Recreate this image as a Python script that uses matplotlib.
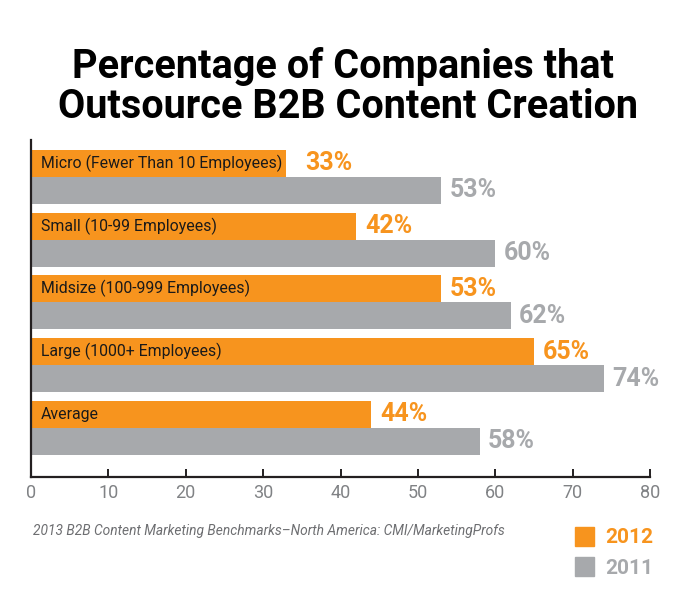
import matplotlib.pyplot as plt
import numpy as np

# data
categories = [
    "Micro (Fewer Than 10 Employees)",
    "Small (10-99 Employees)",
    "Midsize (100-999 Employees)",
    "Large (1000+ Employees)",
    "Average",
]
pct_2012 = [33, 42, 53, 65, 44]
pct_2011 = [53, 60, 62, 74, 58]
xticks = [0, 10, 20, 30, 40, 50, 60, 70, 80]

ORANGE = "#F7941E"
GRAY = "#A7A9AC"
DARK = "#231F20"
TICK_GRAY = "#808285"

plt.rcParams["font.family"] = ["Roboto", "DejaVu Sans"]

W, H = 687, 605
fig = plt.figure(figsize=(W / 100, H / 100), dpi=100)
fig.patch.set_facecolor("white")

# axes placed in pixel terms
left, right, top, bottom = 31, 650, 140, 477
ax = fig.add_axes([left / W, (H - bottom) / H, (right - left) / W, (bottom - top) / H])

bar_h = 0.43
y_2012 = np.arange(len(categories))
y_2011 = y_2012 + bar_h

ax.barh(y_2012, pct_2012, height=bar_h, color=ORANGE)
ax.barh(y_2011, pct_2011, height=bar_h, color=GRAY)

ax.set_xlim(0, 80)
ax.set_ylim(5.0, -0.373)
ax.set_yticks([])
ax.set_xticks(xticks)
ax.set_xticklabels([str(t) for t in xticks], fontsize=13, color=TICK_GRAY)
ax.tick_params(axis="x", direction="in", length=6, width=1.4, color=DARK, pad=5)

for side in ["top", "right"]:
    ax.spines[side].set_visible(False)
for side in ["left", "bottom"]:
    ax.spines[side].set_color(DARK)
    ax.spines[side].set_linewidth(1.6)

# category names inside the orange bars
cat_texts = []
for cat, y in zip(categories, y_2012):
    t = ax.annotate(cat, xy=(0, y), xytext=(7, 0), textcoords="offset points",
                    va="center", ha="left", fontsize=11.4, color="#1A1A1A")
    cat_texts.append(t)

fig.canvas.draw()
renderer = fig.canvas.get_renderer()
inv = ax.transData.inverted()

# value labels, pushed past the category name when it runs beyond the bar
for t, v, y in zip(cat_texts, pct_2012, y_2012):
    bb = t.get_window_extent(renderer)
    text_end = inv.transform((bb.x1 + 14, 0))[0]
    x0 = max(v, text_end)
    ax.annotate(f"{v}%", xy=(x0, y), xytext=(6.5, 0), textcoords="offset points",
                va="center", ha="left", fontsize=18, fontweight="bold", color=ORANGE)

for v, y in zip(pct_2011, y_2011):
    ax.annotate(f"{v}%", xy=(v, y), xytext=(6, 0), textcoords="offset points",
                va="center", ha="left", fontsize=18, fontweight="bold", color=GRAY)

# title
fig.text(343 / W, 1 - 78 / H, "Percentage of Companies that", ha="center",
         va="baseline", fontsize=28.5, fontweight="bold", color="black")
fig.text(348 / W, 1 - 118 / H, "Outsource B2B Content Creation", ha="center",
         va="baseline", fontsize=28.5, fontweight="bold", color="black")

# source note
fig.text(33 / W, 1 - 531 / H,
         "2013 B2B Content Marketing Benchmarks\u2013North America: CMI/MarketingProfs",
         ha="left", va="center", fontsize=9.9, style="italic", color="#6D6E71")

# legend
handles = [plt.Rectangle((0, 0), 1, 1, color=ORANGE),
           plt.Rectangle((0, 0), 1, 1, color=GRAY)]
fig.legend(handles, ["2012", "2011"], loc="upper left",
           bbox_to_anchor=(560 / W, 1 - 512 / H), frameon=False,
           prop={"size": 15, "weight": "bold"}, labelcolor=[ORANGE, GRAY],
           handlelength=0.95, handleheight=1.05, handletextpad=0.5,
           labelspacing=0.45, borderpad=0.2)

fig.savefig("out.png", dpi=100)
